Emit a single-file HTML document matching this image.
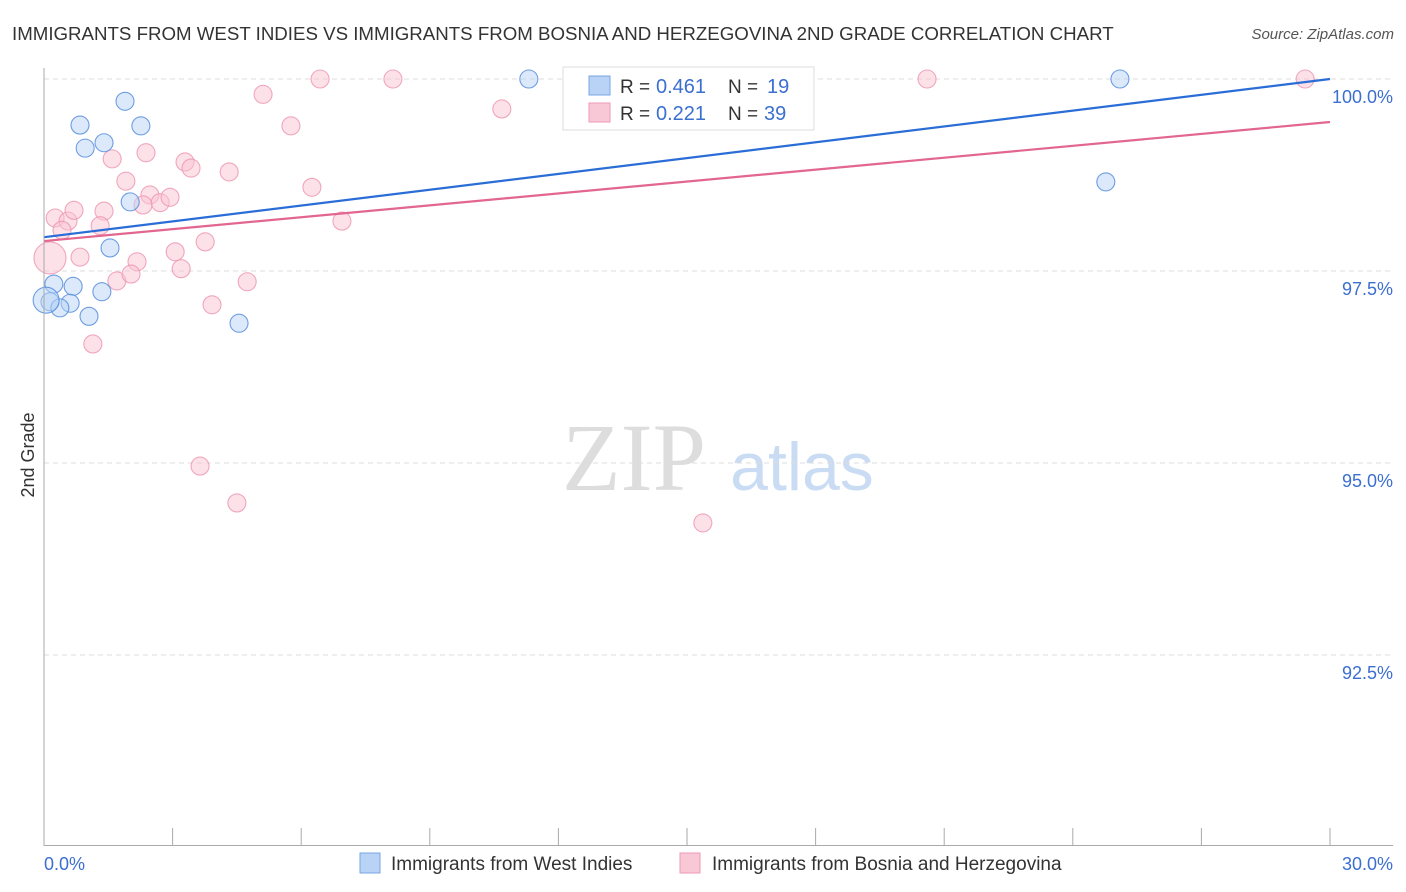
<!DOCTYPE html>
<html><head><meta charset="utf-8"><style>
body{margin:0;background:#fff;font-family:"Liberation Sans",sans-serif;}
svg{display:block}
</style></head><body>
<svg id="c" width="1406" height="892" xmlns="http://www.w3.org/2000/svg">
<text x="12" y="40" font-size="18.7" fill="#333">IMMIGRANTS FROM WEST INDIES VS IMMIGRANTS FROM BOSNIA AND HERZEGOVINA 2ND GRADE CORRELATION CHART</text>
<text x="1394" y="39" font-size="15" fill="#555" font-style="italic" text-anchor="end">Source: ZipAtlas.com</text>
<text x="634" y="490" font-size="96" fill="#ddd" font-family="Liberation Serif,serif" text-anchor="middle">ZIP</text>
<text x="802" y="490" font-size="68" fill="#c9dcf3" text-anchor="middle">atlas</text>
<text transform="translate(34,455) rotate(-90)" font-size="18" fill="#333" text-anchor="middle">2nd Grade</text>
<g id="grid"></g><g id="pts"></g><g id="lines"></g>
<line x1="44" y1="68" x2="44" y2="846" stroke="#aaa"/>
<line x1="44" y1="845.5" x2="1393" y2="845.5" stroke="#aaa"/>
<text x="44" y="870" font-size="18" fill="#3b6fd0">0.0%</text>
<text x="1393" y="870" font-size="18" fill="#3b6fd0" text-anchor="end">30.0%</text>
<g>
<rect x="563" y="67" width="251" height="63" fill="#fff" stroke="#ddd"/>
<rect x="589" y="76" width="21" height="19" fill="#b8d3f5" stroke="#7aa5e3"/>
<rect x="589" y="103" width="21" height="19" fill="#f9c8d6" stroke="#ee9ab4"/>
<text x="620" y="93" font-size="19" fill="#333">R =</text>
<text x="656" y="93" font-size="20" fill="#3b6fd0">0.461</text>
<text x="728" y="93" font-size="19" fill="#333">N =</text>
<text x="767" y="93" font-size="20" fill="#3b6fd0">19</text>
<text x="620" y="120" font-size="19" fill="#333">R =</text>
<text x="656" y="120" font-size="20" fill="#3b6fd0">0.221</text>
<text x="728" y="120" font-size="19" fill="#333">N =</text>
<text x="764" y="120" font-size="20" fill="#3b6fd0">39</text>
</g>
<g>
<rect x="360" y="853" width="20" height="20" fill="#b8d3f5" stroke="#7aa5e3"/>
<text x="391" y="870" font-size="19" fill="#333">Immigrants from West Indies</text>
<rect x="680" y="853" width="20" height="20" fill="#f9c8d6" stroke="#ee9ab4"/>
<text x="712" y="870" font-size="19" fill="#333">Immigrants from Bosnia and Herzegovina</text>
</g>
</svg>
<script>
const yTicks=[100,97.5,95,92.5];
const yTickLabels=["100.0%","97.5%","95.0%","92.5%"];
const xTickCount=10;
const blueX=[1.89,0.84,2.26,0.96,1.40,2.01,1.54,0.23,0.68,1.35,0.14,0.61,0.37,1.05,4.55,11.31,25.10,24.77,0.05];
const blueY=[99.71,99.40,99.39,99.10,99.17,98.40,97.80,97.33,97.30,97.23,97.10,97.08,97.02,96.91,96.82,100,100,98.66,97.12];
const blueR=[9,9,9,9,9,9,9,9,9,9,9,9,9,9,9,9,9,9,13];
const pinkX=[0.26,0.56,0.70,0.42,1.40,1.31,0.84,0.14,1.59,1.91,2.38,2.47,2.71,2.94,3.29,3.43,3.06,3.20,3.76,4.32,5.11,5.76,6.25,6.95,6.44,8.14,10.68,2.17,1.70,2.03,3.92,4.74,1.14,3.64,4.50,15.37,20.60,29.42,2.31];
const pinkY=[98.19,98.15,98.29,98.03,98.28,98.09,97.68,97.67,98.96,98.67,99.04,98.49,98.39,98.46,98.92,98.84,97.75,97.53,97.88,98.79,99.80,99.39,98.59,98.15,100,100,99.61,97.62,97.37,97.46,97.06,97.36,96.55,94.96,94.48,94.22,100,100,98.36];
const blueTrend=[97.94,100.0];
const pinkTrend=[97.89,99.44];
const NS="http://www.w3.org/2000/svg";
const sx=v=>44+v/30*1286;
const sy=v=>79+(100-v)/2.5*192;
function mk(t,a,p){const e=document.createElementNS(NS,t);for(const k in a)e.setAttribute(k,a[k]);document.getElementById(p).appendChild(e);return e;}
yTicks.forEach((t,i)=>{
 const l=mk('line',{x1:44,x2:1393,y1:sy(t),y2:sy(t),stroke:'#ddd','stroke-dasharray':'5,4'},'grid');
 
 
 const tx=mk('text',{x:1393,y:sy(t)+24,'font-size':18,fill:'#3b6fd0','text-anchor':'end'},'grid');
 tx.textContent=yTickLabels[i];
 
 
});
for(let i=1;i<=xTickCount;i++){
 const x=sx(i*3);
 const l=mk('line',{x1:x,x2:x,y1:828,y2:845,stroke:'#aaa'},'grid');
 
 
}
function pts(X,Y,R,fill,stroke,name){
 X.forEach((x,i)=>{
  const c=mk('circle',{cx:sx(x),cy:sy(Y[i]),r:R?R[i]:9,fill:fill,'fill-opacity':0.5,stroke:stroke,'stroke-width':1.1,'stroke-opacity':0.8},'pts');
  
  
 });
}
const pinkR=pinkX.map((x,i)=>i===7?16:9);
pts(pinkX,pinkY,pinkR,'#f9c3d3','#ec93b0','pink-point');
pts(blueX,blueY,blueR,'#b8d3f5','#4f87dc','blue-point');
const bl=mk('line',{x1:sx(0),y1:sy(blueTrend[0]),x2:sx(30),y2:sy(blueTrend[1]),stroke:'#2a6dd6','stroke-width':2.2},'lines');


const pl=mk('line',{x1:sx(0),y1:sy(pinkTrend[0]),x2:sx(30),y2:sy(pinkTrend[1]),stroke:'#e2668f','stroke-width':2.2},'lines');


</script>
</body></html>
